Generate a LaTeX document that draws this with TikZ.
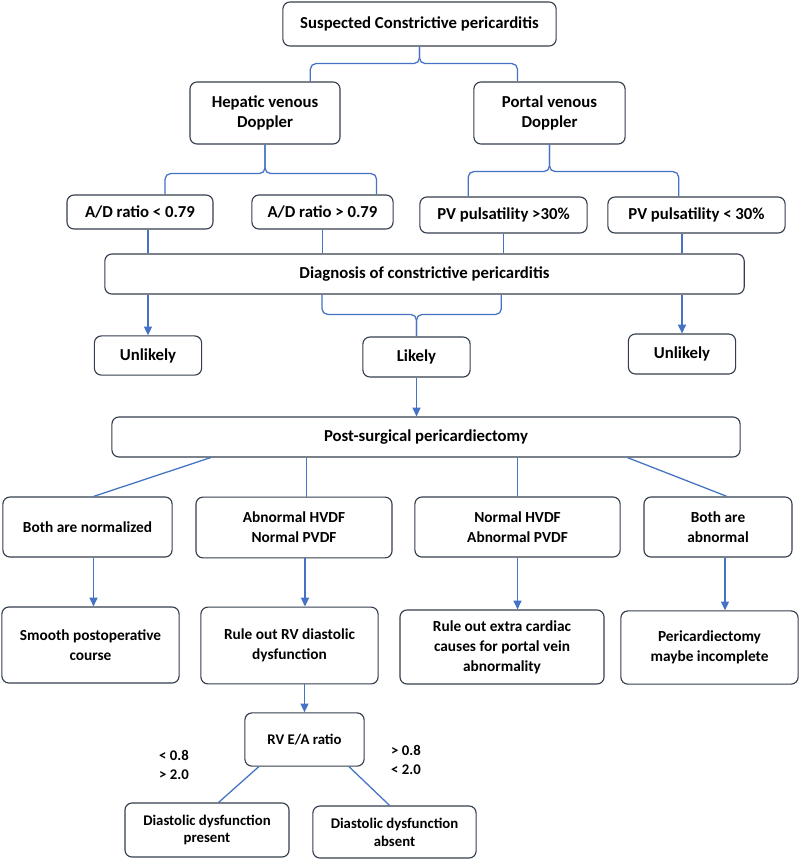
\documentclass[tikz,border=0pt]{standalone}
\usepackage{fontspec}
\setmainfont{Carlito}
\usetikzlibrary{arrows.meta,calc}

\definecolor{boxline}{RGB}{52,62,78}
\definecolor{linkblue}{RGB}{68,114,196}

\begin{document}
\begin{tikzpicture}[
  x=0.025cm, y=0.025cm,
  font=\bfseries\fontsize{11.9}{14.7}\selectfont,
  flowbox/.style={draw=boxline, line width=0.8pt, rounded corners=5pt, align=center, fill=white, inner sep=2pt},
  midbox/.style={flowbox, font=\bfseries\fontsize{10.9}{14.2}\selectfont},
  lowbox/.style={flowbox, font=\bfseries\fontsize{10.5}{12.6}\selectfont},
  link/.style={draw=linkblue, line width=0.9pt},
  arrow/.style={link, -{Triangle[length=2.2mm,width=2mm]}},
  bracelink/.style={link, rounded corners=4pt},
  cond/.style={align=left, font=\bfseries\fontsize{10.5}{14}\selectfont}
]

\fill[white] (0,0) rectangle (800,-861);
\useasboundingbox (0,0) rectangle (800,-861);

% top of the tree
\node[flowbox, minimum width=6.83cm, minimum height=1.1cm] (top) at (419.5,-24) {Suspected Constrictive pericarditis};
\node[flowbox, minimum width=3.75cm, minimum height=1.55cm] (hep) at (265,-113) {Hepatic venous\\Doppler};
\node[flowbox, minimum width=3.78cm, minimum height=1.55cm] (por) at (549.5,-113) {Portal venous\\Doppler};

\node[flowbox, minimum width=3.65cm, minimum height=0.85cm] (adlo) at (140,-212) {A/D ratio < 0.79};
\node[flowbox, minimum width=3.53cm, minimum height=0.85cm] (adhi) at (322.5,-212) {A/D ratio > 0.79};
\node[flowbox, minimum width=4.18cm, minimum height=0.9cm] (pvhi) at (503.5,-215) {PV pulsatility >30\%};
\node[flowbox, minimum width=4.43cm, minimum height=0.9cm] (pvlo) at (696.5,-215) {PV pulsatility < 30\%};

\node[flowbox, minimum width=15.98cm, minimum height=1cm] (diag) at (424.5,-274) {Diagnosis of constrictive pericarditis};

\node[flowbox, minimum width=2.68cm, minimum height=0.98cm] (unl1) at (148,-355.5) {Unlikely};
\node[flowbox, minimum width=2.68cm, minimum height=1cm] (likely) at (416.5,-357) {Likely};
\node[flowbox, minimum width=2.68cm, minimum height=1cm] (unl2) at (682,-354) {Unlikely};

% after surgery
\node[flowbox, minimum width=15.7cm, minimum height=1cm] (post) at (426,-437) {Post-surgical pericardiectomy};

\node[midbox, minimum width=4.23cm, minimum height=1.5cm] (bnorm) at (87.5,-527) {Both are normalized};
\node[midbox, minimum width=4.9cm, minimum height=1.52cm] (abhv) at (294,-527.5) {Abnormal HVDF\\Normal PVDF};
\node[midbox, minimum width=5.13cm, minimum height=1.5cm] (nohv) at (517.5,-527) {Normal HVDF\\Abnormal PVDF};
\node[midbox, minimum width=3.7cm, minimum height=1.5cm] (babn) at (718,-527) {Both are\\abnormal};

\node[midbox, minimum width=4.43cm, minimum height=1.9cm] (smooth) at (90.5,-645) {Smooth postoperative\\course};
\node[midbox, minimum width=4.43cm, minimum height=1.92cm] (rulerv) at (289.5,-645.5) {Rule out RV diastolic\\dysfunction};
\node[midbox, minimum width=5.1cm, minimum height=1.85cm] (ruleex) at (502,-647) {Rule out extra cardiac\\causes for portal vein\\abnormality};
\node[midbox, minimum width=4.43cm, minimum height=1.83cm] (incompl) at (709.5,-647.5) {Pericardiectomy\\maybe incomplete};

\node[lowbox, minimum width=2.98cm, minimum height=1.33cm] (earatio) at (304.5,-739.5) {RV E/A ratio};
\node[lowbox, minimum width=4.1cm, minimum height=1.35cm] (ddpres) at (207,-830) {Diastolic dysfunction\\present};
\node[lowbox, minimum width=4.08cm, minimum height=1.3cm] (ddabs) at (394.5,-832) {Diastolic dysfunction\\absent};

\node[cond] (lowcond) at (174,-765) {< 0.8\\> 2.0};
\node[cond] (highcond) at (406,-760) {> 0.8\\< 2.0};

% braces
\coordinate (c1) at ($(top.south)+(0,-17)$);
\draw[bracelink] ($(hep.north west)!.8!(hep.north east)$) |- (c1) -- (top.south);
\draw[bracelink] ($(por.north west)!.29!(por.north east)$) |- (c1) -- (top.south);

\coordinate (c2) at ($(hep.south)+(0,-29)$);
\draw[bracelink] ($(adlo.north west)!.67!(adlo.north east)$) |- (c2) -- (hep.south);
\draw[bracelink] ($(adhi.north west)!.88!(adhi.north east)$) |- (c2) -- (hep.south);

\coordinate (c3) at ($(por.south)+(0,-27)$);
\draw[bracelink] ($(pvhi.north west)!.29!(pvhi.north east)$) |- (c3) -- (por.south);
\draw[bracelink] ($(pvlo.north west)!.40!(pvlo.north east)$) |- (c3) -- (por.south);

\coordinate (c4) at ($(likely.north)+(0,22)$);
\draw[bracelink] ($(diag.south west)!.34!(diag.south east)$) |- (c4) -- (likely.north);
\draw[bracelink] ($(diag.south west)!.62!(diag.south east)$) |- (c4) -- (likely.north);

% into and out of the diagnosis
\draw[link] (adlo.south -| unl1.north) -- (diag.north -| unl1.north);
\draw[link] (adhi.south) -- (adhi.south |- diag.north);
\draw[link] (pvhi.south) -- (pvhi.south |- diag.north);
\draw[link] (pvlo.south -| unl2.north) -- (diag.north -| unl2.north);
\draw[arrow] (diag.south -| unl1.north) -- (unl1.north);
\draw[arrow] (diag.south -| unl2.north) -- (unl2.north);
\draw[arrow] (likely.south) -- (likely.south |- post.north);

% post-surgical branches
\coordinate (p1) at ($(post.south west)!.158!(post.south east)$);
\coordinate (p2) at ($(post.south west)!.31!(post.south east)$);
\coordinate (p4) at ($(post.south west)!.82!(post.south east)$);
\draw[link] (p1) -- ($(bnorm.north)+(6,0)$);
\draw[link] (p2) -- (p2 |- abhv.north);
\draw[link] (nohv.north |- post.south) -- (nohv.north);
\draw[link] (p4) -- ($(babn.north)+(9,0)$);

\coordinate (a1) at ($(bnorm.south)+(6,0)$);
\coordinate (a2) at ($(abhv.south)+(11,0)$);
\coordinate (a4) at ($(babn.south)+(7,0)$);
\draw[arrow] (a1) -- (a1 |- smooth.north);
\draw[arrow] (a2) -- (a2 |- rulerv.north);
\draw[arrow] (nohv.south) -- (nohv.south |- ruleex.north);
\draw[arrow] (a4) -- (a4 |- incompl.north);

\draw[arrow] (earatio.north |- rulerv.south) -- (earatio.north);
\draw[link] ($(earatio.south west)!.12!(earatio.south east)$) -- ($(ddpres.north west)!.57!(ddpres.north east)$);
\draw[link] ($(earatio.south west)!.87!(earatio.south east)$) -- ($(ddabs.north west)!.47!(ddabs.north east)$);

\end{tikzpicture}
\end{document}
